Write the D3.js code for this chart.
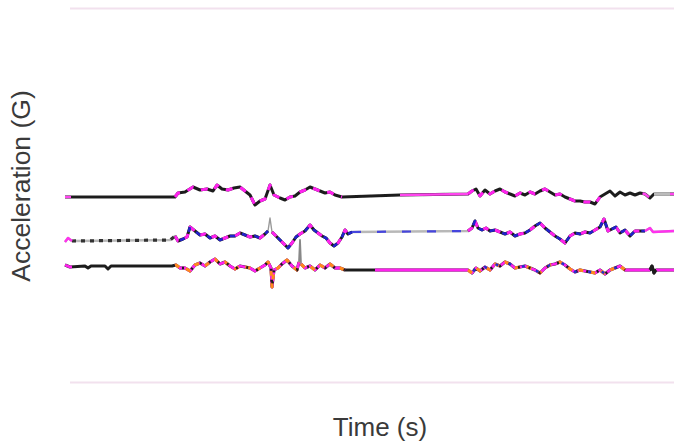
<!DOCTYPE html>
<html>
<head>
<meta charset="utf-8">
<script src="https://cdn.jsdelivr.net/npm/d3@7"></script>
<style>
  body { margin: 0; background: #fff; }
  text { font-family: "Liberation Sans", Arial, sans-serif; fill: #3a3a3a; }
</style>
</head>
<body>
<div id="vis" style="width:674px;height:441px"></div>
<script>
// time (s) and acceleration (G), one pair of arrays per axis trace
var topT = [0, 22, 22.6, 24, 25.6, 27, 28.4, 29.6, 30.4, 31.4, 32.6, 33.8, 35, 36, 37, 38, 39, 40, 41, 41.8, 43, 44, 45, 46, 47, 48, 49, 50, 51, 52, 53, 54, 55.4,
  67, 80.6, 81.4, 82.2, 83, 84, 85, 86, 87, 88, 89, 90, 91, 92, 93, 94, 95, 96, 97, 98, 99, 100, 101, 102, 103, 104, 105, 106, 107, 108, 109, 110, 111, 112, 113, 114, 115, 116, 117, 117.8, 121.8];
var topV = [-0.02, -0.02, 0.02, 0.03, 0.08, 0.05, 0.06, 0.04, 0.10, 0.06, 0.05, 0.07, 0.08, 0.04, 0.00, -0.10, -0.06, -0.04, 0.10, 0.00, -0.03, -0.05, -0.02, -0.01, 0.03, 0.05, 0.08, 0.06, 0.04, 0.02, 0.03, 0.00, -0.02,
  0.00, 0.01, 0.04, 0.06, -0.01, 0.05, 0.01, 0.04, 0.06, 0.03, 0.01, -0.01, 0.02, 0.00, 0.03, 0.01, 0.04, 0.06, 0.03, 0.00, 0.01, -0.02, -0.04, -0.06, -0.06, -0.07, -0.07, -0.09, -0.02, 0.01, 0.04, -0.01, 0.03, 0.00, 0.02, 0.00, 0.02, 0.01, -0.03, 0.01, 0.01];

var midT = [0, 0.6, 1.4, 21, 22, 22.6, 23.6, 24.4, 25, 26, 27, 28, 29, 30, 31, 32, 33, 34, 35, 36, 37, 38, 39, 40, 40.6, 41, 41.4, 42.2, 43.4, 44.6, 45.4, 46.2, 47, 48, 49, 49.8, 50.6, 51.4, 52.2, 53, 53.8, 54.6, 55.4, 56, 56.6, 57.4,
  80.6, 81.4, 82, 82.6, 83.4, 84.2, 85, 86, 87, 88, 89, 90, 91, 92, 93, 94, 95, 96, 97, 98, 99, 100, 101, 102, 103, 104, 105, 106, 107, 107.8, 108.6, 109.4, 110.2, 111, 112, 113, 114, 116, 117, 117.6, 121.8];
var midV = [-0.47, -0.43, -0.46, -0.45, -0.41, -0.46, -0.44, -0.42, -0.32, -0.36, -0.40, -0.39, -0.43, -0.41, -0.45, -0.43, -0.41, -0.41, -0.38, -0.40, -0.42, -0.41, -0.43, -0.39, -0.36, -0.23, -0.37, -0.41, -0.47, -0.53, -0.48, -0.42, -0.39, -0.36, -0.30, -0.35, -0.38, -0.41, -0.43, -0.48, -0.51, -0.48, -0.42, -0.35, -0.39, -0.37,
  -0.36, -0.33, -0.26, -0.33, -0.35, -0.33, -0.36, -0.35, -0.37, -0.39, -0.37, -0.41, -0.39, -0.38, -0.35, -0.31, -0.28, -0.33, -0.37, -0.41, -0.44, -0.48, -0.41, -0.38, -0.39, -0.37, -0.38, -0.35, -0.32, -0.24, -0.36, -0.34, -0.32, -0.38, -0.35, -0.41, -0.36, -0.36, -0.33, -0.37, -0.36];

var botT = [0, 1, 4, 4.6, 5.2, 8, 8.6, 9.2, 21.4, 22.2, 23, 24, 25, 26, 27, 28, 29, 30, 31, 32, 33, 34, 35, 36, 37, 38, 39, 40, 40.6, 41.2, 41.4, 41.8, 42.6, 43.4, 44.4, 45.4, 46.4, 46.8, 47, 47.2, 48, 49, 50, 51, 52, 53, 54, 55, 56,
  80.6, 81.4, 82.2, 83, 84, 85, 86, 87, 88, 89, 90, 91, 92, 93, 94, 95, 96, 97, 98, 99, 100, 101, 102, 103, 104, 105, 106, 107, 108, 109, 110, 111, 112, 117, 117.4, 117.8, 118.2, 121.8];
var botV = [-0.70, -0.72, -0.71, -0.73, -0.71, -0.71, -0.74, -0.71, -0.71, -0.70, -0.73, -0.73, -0.76, -0.70, -0.68, -0.71, -0.67, -0.64, -0.69, -0.67, -0.71, -0.74, -0.71, -0.72, -0.73, -0.76, -0.73, -0.70, -0.67, -0.73, -0.92, -0.75, -0.73, -0.69, -0.65, -0.71, -0.75, -0.67, -0.45, -0.69, -0.73, -0.71, -0.75, -0.70, -0.73, -0.69, -0.73, -0.73, -0.75,
  -0.75, -0.78, -0.73, -0.76, -0.72, -0.75, -0.69, -0.71, -0.67, -0.69, -0.73, -0.72, -0.71, -0.73, -0.75, -0.78, -0.73, -0.70, -0.69, -0.67, -0.70, -0.74, -0.77, -0.75, -0.76, -0.77, -0.78, -0.75, -0.79, -0.75, -0.73, -0.71, -0.75, -0.75, -0.71, -0.78, -0.75, -0.75];

// time ranges where the overlaid series show
var topMixSpans = [[22, 55.4], [80.6, 107]];
var topPinkSpans = [[0, 1.2], [67, 80.6], [115.5, 116.8], [121, 121.8]];
var topGraySpans = [[117.8, 121]];
var midBaseSpans = [[0, 40.6], [41.4, 121.8]];
var midMixSpans = [[22, 40.6], [41.4, 57.4], [80.6, 116]];
var midDotSpans = [[1.4, 22]];
var midFlatSpans = [[57.4, 80.6]];
var midPinkSpans = [[0, 1.4], [116, 121.8]];
var midThinSpans = [[40.6, 41.4]];
var botBaseSpans = [[0, 46.8], [47.2, 121.8]];
var botMixSpans = [[22, 46.8], [47.2, 56], [80.6, 112]];
var botPinkSpans = [[0, 1.4], [22, 46.8], [47.2, 56], [62, 80.6], [80.6, 117], [118.2, 121.8]];
var botThinSpans = [[46.8, 47.2]];
var botBlip = [[117, 118.2]];

var width = 674, height = 441;

var svg = d3.select('#vis')
  .append('svg')
  .attr('width', width)
  .attr('height', height);

// the reference is a soft, slightly blurred bitmap
svg.append('defs').append('filter')
  .attr('id', 'soft')
  .append('feGaussianBlur')
  .attr('stdDeviation', 0.6);

var xScale = d3.scaleLinear()
  .domain([0, 121.8])
  .range([65, 674]);

var yScale = d3.scaleLinear()
  .domain([-1.87, 1.87])
  .range([382, 8]);

// faint frame lines at the top and bottom of the plot
svg.append('g')
  .attr('transform', 'translate(674,0)')
  .call(d3.axisLeft(yScale).tickValues(yScale.domain()).tickSize(604).tickFormat(''))
  .call(function(g) {
    g.select('.domain').remove();
    g.selectAll('line').attr('stroke', '#f2e1ee').attr('stroke-width', 1.8);
  });

var line = d3.line()
  .x(function(d) { return xScale(d[0]); })
  .y(function(d) { return yScale(d[1]); });

// points of one trace between a and b, ends interpolated
function clip(T, V, a, b) {
  function at(t) {
    var i = d3.bisectLeft(T, t);
    if (i <= 0) return V[0];
    if (i >= T.length) return V[V.length - 1];
    return V[i - 1] + (V[i] - V[i - 1]) * (t - T[i - 1]) / (T[i] - T[i - 1]);
  }
  var pts = [[a, at(a)]];
  T.forEach(function(t, i) { if (t > a && t < b) pts.push([t, V[i]]); });
  pts.push([b, at(b)]);
  return pts;
}

var plot = svg.append('g')
  .attr('fill', 'none')
  .attr('stroke-linejoin', 'round')
  .attr('filter', 'url(#soft)');

function draw(T, V, spans, color, w, dash, offset) {
  spans.forEach(function(s) {
    plot.append('path')
      .attr('d', line(clip(T, V, s[0], s[1])))
      .attr('stroke', color)
      .attr('stroke-width', w)
      .attr('stroke-dasharray', dash || null)
      .attr('stroke-dashoffset', offset || 0);
  });
}

var full = [[0, 121.8]];

// top trace
draw(topT, topV, full, '#1e1e1e', 3);
draw(topT, topV, topMixSpans, '#ff22ee', 3, '7 8');
draw(topT, topV, topPinkSpans, '#ff44ee', 2.4);
draw(topT, topV, topGraySpans, '#bbbbbb', 3.2);

// middle trace
draw(midT, midV, midBaseSpans, '#b8b8b8', 2.4);
draw(midT, midV, midThinSpans, '#999', 1.4);
draw(midT, midV, midMixSpans, '#1e1e1e', 3);
draw(midT, midV, midMixSpans, '#ff22ee', 3, '6 7');
draw(midT, midV, midMixSpans, '#2222cc', 2.6, '5 8', 5);
draw(midT, midV, midDotSpans, '#333', 3.2, '4 5');
draw(midT, midV, midFlatSpans, '#4444dd', 2.2, '9 16');
draw(midT, midV, midPinkSpans, '#ff33ee', 2.4);

// bottom trace
draw(botT, botV, botBaseSpans, '#1e1e1e', 3);
draw(botT, botV, botThinSpans, '#888', 1.8);
draw(botT, botV, botPinkSpans, '#ff22ee', 2.8);
draw(botT, botV, botMixSpans, '#ff8a1c', 3, '5 7');
draw(botT, botV, botMixSpans, '#1e1e1e', 2.6, '2 9', 3);
draw(botT, botV, [[80.6, 112]], '#2233cc', 2.4, '3 12', 8);
draw(botT, botV, botBlip, '#1e1e1e', 3);

svg.append('text')
  .attr('transform', 'translate(21,186) rotate(-90)')
  .attr('text-anchor', 'middle')
  .attr('dominant-baseline', 'central')
  .style('font-size', '26.5px')
  .text('Acceleration (G)');

svg.append('text')
  .attr('x', 380)
  .attr('y', 436)
  .attr('text-anchor', 'middle')
  .style('font-size', '26px')
  .text('Time (s)');
</script>
</body>
</html>
